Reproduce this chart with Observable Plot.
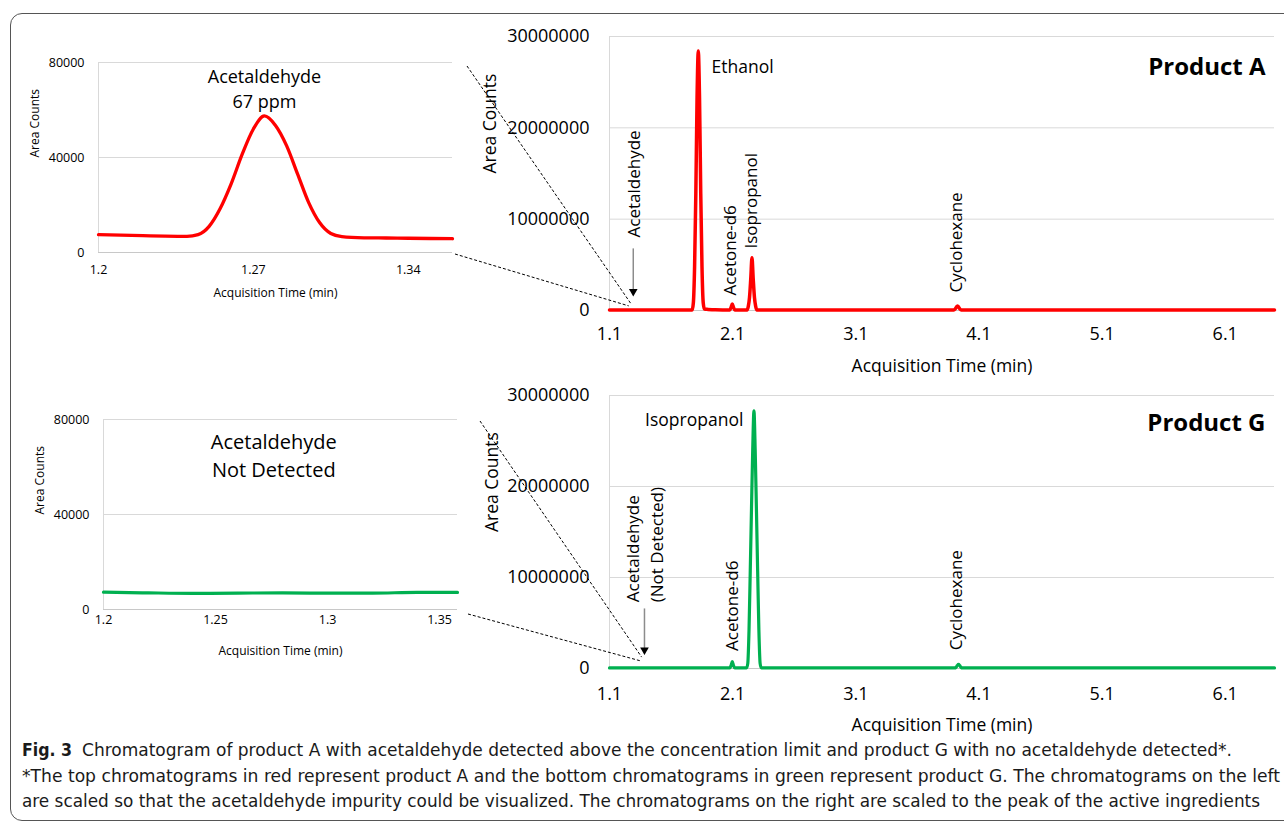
<!DOCTYPE html>
<html><head><meta charset="utf-8">
<script src="https://cdn.jsdelivr.net/npm/d3@7"></script>
<script src="https://cdn.jsdelivr.net/npm/@observablehq/plot@0.6"></script>
<style>
html,body{margin:0;padding:0;background:#fff;}
#page{position:relative;width:1284px;height:828px;overflow:hidden;background:#fff;}
#frame{position:absolute;left:10px;top:13px;width:1300px;height:808px;border:1.5px solid #555;border-radius:12px;box-sizing:border-box;}
</style></head>
<body><div id="page"><div id="frame"></div></div>
<script>
// ---------- data ----------
// Zoomed acetaldehyde region, product A (red)
const insetATime   = [1.2, 1.21, 1.22, 1.23, 1.24, 1.245, 1.25, 1.255, 1.26, 1.265, 1.27, 1.275, 1.28, 1.285, 1.29, 1.295, 1.30, 1.305, 1.31, 1.32, 1.33, 1.34, 1.35, 1.36];
const insetACounts = [7500, 7300, 7100, 6900, 6800, 7500, 11000, 18500, 29000, 41500, 52000, 57500, 53500, 45000, 33000, 21000, 12500, 8000, 6700, 6200, 6100, 6000, 5900, 5800];
// Zoomed acetaldehyde region, product G (green)
const insetGTime   = [1.2, 1.22, 1.24, 1.26, 1.28, 1.30, 1.32, 1.34, 1.358];
const insetGCounts = [7300, 7000, 6800, 6900, 7000, 6900, 6900, 7200, 7200];
// Full chromatogram, product A
const mainATime = [1.1, 1.5, 1.76, 1.771, 1.781, 1.791, 1.801, 1.811, 1.821, 1.831, 1.841, 1.851, 1.861, 1.871, 1.90, 1.96, 2.077,
  2.087, 2.097, 2.107, 2.117, 2.217, 2.227, 2.237, 2.247, 2.257, 2.267, 2.277, 2.287, 2.297, 3.0, 3.896, 3.906, 3.916, 3.926, 3.936, 3.946, 3.956, 5.0, 6.5];
const mainACounts = [60000, 60000, 60000, 60000, 850000, 4830000, 12780000, 23290000, 28400000, 23290000, 12780000, 4830000, 850000, 150000, 120000, 80000, 60000,
  330000, 720000, 330000, 60000, 60000, 460000, 1440000, 3460000, 5770000, 3460000, 1440000, 460000, 60000, 60000, 60000, 150000, 350000, 500000, 350000, 150000, 60000, 60000, 60000];
// Full chromatogram, product G
const mainGTime = [1.1, 1.6, 2.077, 2.087, 2.097, 2.107, 2.117, 2.213, 2.223, 2.233, 2.243, 2.253, 2.263, 2.273, 2.283, 2.293, 2.303, 2.313, 2.323, 2.333,
  2.4, 3.904, 3.914, 3.924, 3.934, 3.944, 3.954, 3.964, 5.0, 6.5];
const mainGCounts = [60000, 60000, 60000, 330000, 750000, 330000, 60000, 60000, 566000, 4250000, 10750000, 17550000, 24060000, 28300000, 24060000, 17550000, 10750000, 4250000, 566000, 60000,
  60000, 60000, 140000, 320000, 460000, 320000, 140000, 60000, 60000, 60000];

// axes
const insetAXDomain = [1.2, 1.36];
const insetGXDomain = [1.2, 1.358];
const insetYDomain = [0, 80000];
const mainXDomain = [1.1, 6.5];
const mainYDomain = [0, 30000000];
const insetAXTicks = [1.2, 1.27, 1.34];
const insetGXTicks = [1.2, 1.25, 1.3, 1.35];
const insetYTicks = [0, 40000, 80000];
const mainXTicks = [1.1, 2.1, 3.1, 4.1, 5.1, 6.1];
const mainYTicks = [0, 10000000, 20000000, 30000000];
const xTitle = "Acquisition Time (min)";
const yTitle = "Area Counts";

// annotations (anchor time / counts)
const insetANote = [{time: 1.275, text: "Acetaldehyde\n67 ppm"}];
const insetGNote = [{time: 1.276, text: "Acetaldehyde\nNot Detected"}];
const peakNamesA = ["Acetaldehyde", "Acetone-d6", "Isopropanol", "Cyclohexane"];
const peakTimesA = [1.283, 2.067, 2.23, 3.897];
const peakCountsA = [8000000, 1640000, 6790000, 1970000];
const peakNamesG = ["Acetaldehyde\n(Not Detected)", "Acetone-d6", "Cyclohexane"];
const peakTimesG = [1.372, 2.076, 3.897];
const peakCountsG = [7280000, 1930000, 2000000];
const mainPeakA = [{name: "Ethanol", time: 1.929, counts: 26600000}];
const mainPeakG = [{name: "Isopropanol", time: 2.187, counts: 27260000}];
const arrowA = [{time: 1.293, from: 6800000, to: 2080000}];
const arrowG = [{time: 1.384, from: 6600000, to: 2040000}];
const captionBold = "Fig. 3";
const captionLines = [
  "Chromatogram of product A with acetaldehyde detected above the concentration limit and product G with no acetaldehyde detected*.",
  "*The top chromatograms in red represent product A and the bottom chromatograms in green represent product G. The chromatograms on the left",
  "are scaled so that the acetaldehyde impurity could be visualized. The chromatograms on the right are scaled to the peak of the active ingredients"
];

// ---------- drawing ----------
const FONT = "'Open Sans', 'Noto Sans', sans-serif";
const RED = "#ff0000", GREEN = "#00b050";
const page = document.getElementById("page");

function panel(o) {
  const rows = o.time.map((t, i) => ({t, c: o.counts[i]}));
  const svg = Plot.plot({
    width: o.width, height: o.height,
    marginLeft: o.m[0], marginTop: o.m[1], marginRight: o.m[2], marginBottom: o.m[3],
    style: {fontFamily: FONT, color: "#000", background: "transparent", overflow: "visible"},
    x: {domain: o.xDomain},
    y: {domain: o.yDomain},
    marks: [
      Plot.ruleY(o.yTicks.filter(d => d > 0), {stroke: "#d9d9d9", strokeWidth: 1}),
      Plot.ruleX([o.xDomain[0]], {stroke: "#d9d9d9", strokeWidth: 1}),
      Plot.ruleY([0], {stroke: "#c8c8c8", strokeWidth: 1}),
      Plot.axisX(o.xTicks, {tickSize: 0, tickPadding: o.xPad, tickFormat: d => String(d), fontSize: o.tickFont, label: null}),
      Plot.axisY(o.yTicks, {tickSize: 0, tickPadding: o.yPad, tickFormat: d => String(d), fontSize: o.tickFont, label: null}),
      Plot.text([xTitle], {text: d => d, frameAnchor: "bottom", lineAnchor: "middle", dy: o.xTitleDy, fontSize: o.titleFont}),
      Plot.text([yTitle], {text: d => d, frameAnchor: "left", lineAnchor: "middle", rotate: -90, dx: -o.yTitleDx, fontSize: o.titleFont}),
      Plot.line(rows, {x: "t", y: "c", stroke: o.color, strokeWidth: o.sw, curve: "monotone-x"}),
      ...o.extra
    ]
  });
  svg.style.position = "absolute";
  svg.style.left = o.left + "px";
  svg.style.top = o.top + "px";
  page.appendChild(svg);
  return {left: o.left, top: o.top, x: svg.scale("x"), y: svg.scale("y")};
}

function peakLabels(names, times, counts, extra) {
  const rows = names.map((n, i) => ({name: n, time: times[i], counts: counts[i]}));
  return Plot.text(rows, {x: "time", y: "counts", text: "name", rotate: -90, textAnchor: "start", lineAnchor: "middle", fontSize: 17, lineHeight: 1.45, ...extra});
}
function arrowMarks(a) {
  return [
    Plot.link(a, {x1: "time", x2: "time", y1: "from", y2: "to", stroke: "#8c8c8c", strokeWidth: 1.5}),
    Plot.dot(a, {x: "time", y: "to", symbol: "triangle", rotate: 180, r: 3.2, fill: "#000", stroke: null})
  ];
}

const inA = panel({
  left: 0, top: 40, width: 470, height: 270, m: [98, 22, 18, 58],
  xDomain: insetAXDomain, yDomain: insetYDomain, xTicks: insetAXTicks, yTicks: insetYTicks,
  xPad: 13, yPad: 14, tickFont: 12.5, titleFont: 12, xTitleDy: 41, yTitleDx: 63,
  time: insetATime, counts: insetACounts, color: RED, sw: 3.3,
  extra: [Plot.text(insetANote, {x: "time", text: "text", frameAnchor: "top", lineAnchor: "top", dy: 3, fontSize: 18, lineHeight: 1.38})]
});

const mainA = panel({
  left: 470, top: 0, width: 814, height: 380, m: [139, 36, 10, 70],
  xDomain: mainXDomain, yDomain: mainYDomain, xTicks: mainXTicks, yTicks: mainYTicks,
  xPad: 17, yPad: 20, tickFont: 18, titleFont: 17.5, xTitleDy: 56, yTitleDx: 119,
  time: mainATime, counts: mainACounts, color: RED, sw: 3.5,
  extra: [
    peakLabels(peakNamesA, peakTimesA, peakCountsA),
    Plot.text(mainPeakA, {x: "time", y: "counts", text: "name", textAnchor: "start", fontSize: 17.5}),
    Plot.text(["Product A"], {text: d => d, frameAnchor: "top-right", textAnchor: "end", lineAnchor: "middle", dx: -9, dy: 31, fontSize: 24, fontWeight: "bold"}),
    ...arrowMarks(arrowA)
  ]
});

const inG = panel({
  left: 0, top: 395, width: 475, height: 270, m: [103, 24, 18, 56],
  xDomain: insetGXDomain, yDomain: insetYDomain, xTicks: insetGXTicks, yTicks: insetYTicks,
  xPad: 6, yPad: 14, tickFont: 12.5, titleFont: 12, xTitleDy: 42, yTitleDx: 63,
  time: insetGTime, counts: insetGCounts, color: GREEN, sw: 3.2,
  extra: [Plot.text(insetGNote, {x: "time", text: "text", frameAnchor: "top", lineAnchor: "top", dy: 10, fontSize: 20, lineHeight: 1.4})]
});

const mainG = panel({
  left: 470, top: 380, width: 814, height: 360, m: [139, 15, 10, 72],
  xDomain: mainXDomain, yDomain: mainYDomain, xTicks: mainXTicks, yTicks: mainYTicks,
  xPad: 19, yPad: 20, tickFont: 18, titleFont: 17.5, xTitleDy: 57, yTitleDx: 117,
  time: mainGTime, counts: mainGCounts, color: GREEN, sw: 3.2,
  extra: [
    peakLabels(peakNamesG, peakTimesG, peakCountsG),
    Plot.text(mainPeakG, {x: "time", y: "counts", text: "name", textAnchor: "end", fontSize: 17.5}),
    Plot.text(["Product G"], {text: d => d, frameAnchor: "top-right", textAnchor: "end", lineAnchor: "middle", dx: -9, dy: 28, fontSize: 24, fontWeight: "bold"}),
    ...arrowMarks(arrowG)
  ]
});

// dashed zoom connectors, from the inset frame corners to the acetaldehyde region of the full chromatogram
function pt(p, t, c) { return [p.left + p.x.apply(t), p.top + p.y.apply(c)]; }
const overlay = d3.select(page).append("svg")
  .attr("width", 1284).attr("height", 828)
  .style("position", "absolute").style("left", 0).style("top", 0).style("pointer-events", "none");
const connectors = [
  [pt(inA, insetAXDomain[1], insetYDomain[1]), [15, 4], pt(mainA, 1.275, 750000)],
  [pt(inA, insetAXDomain[1], 0), [3, 2], pt(mainA, 1.26, 450000)],
  [pt(inG, insetGXDomain[1], insetYDomain[1]), [23, 2], pt(mainG, 1.365, 1200000)],
  [pt(inG, insetGXDomain[1], 0), [11, 5], pt(mainG, 1.365, 750000)]
];
overlay.selectAll("line").data(connectors).join("line")
  .attr("x1", d => d[0][0] + d[1][0]).attr("y1", d => d[0][1] + d[1][1])
  .attr("x2", d => d[2][0]).attr("y2", d => d[2][1])
  .attr("stroke", "#000").attr("stroke-width", 1).attr("stroke-dasharray", "3,2");

// caption
const CAP_FONT = "'Liberation Sans Narrow', 'DejaVu Sans Condensed', 'Roboto Condensed', 'Open Sans', sans-serif";
const cap = overlay.append("g").attr("font-family", CAP_FONT).attr("font-size", 18.5).attr("fill", "#1a1a1a").style("font-stretch", "condensed");
cap.append("text").attr("x", 22).attr("y", 756).attr("font-weight", "bold")
  .attr("textLength", 50).attr("lengthAdjust", "spacingAndGlyphs").text(captionBold);
const capGeom = [[82, 756, 1150], [22, 782, 1258], [22, 807, 1238]];
captionLines.forEach((line, i) => {
  cap.append("text").attr("x", capGeom[i][0]).attr("y", capGeom[i][1])
    .attr("textLength", capGeom[i][2]).attr("lengthAdjust", "spacingAndGlyphs").text(line);
});
</script></body></html>
